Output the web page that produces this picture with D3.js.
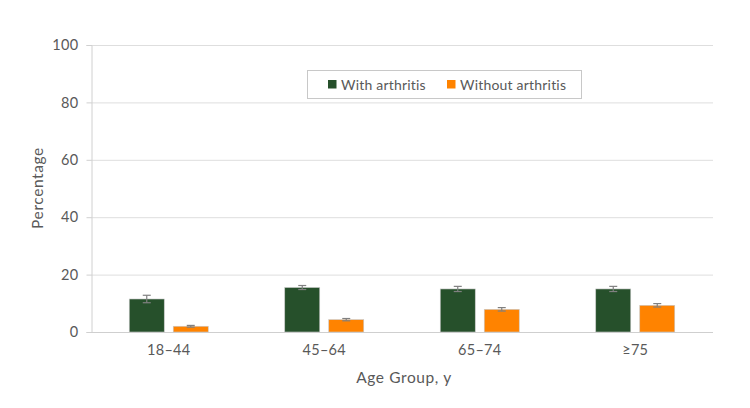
<!DOCTYPE html>
<html><head><meta charset="utf-8">
<script src="https://cdn.jsdelivr.net/npm/d3@7"></script>
<style>body{margin:0;background:#fff;} text{font-family:Lato,"Open Sans",sans-serif;fill:#595959;}</style>
</head><body>
<svg id="c" width="750" height="408"></svg>
<script>
const categories = ["18–44", "45–64", "65–74", "≥75"];
const seriesNames = ["With arthritis", "Without arthritis"];
const withArthritis = [11.5, 15.5, 15.0, 15.0];
const withoutArthritis = [2.0, 4.3, 7.9, 9.3];
const withErr = [1.3, 0.7, 0.9, 0.9];
const withoutErr = [0.3, 0.4, 0.6, 0.6];
const yTicks = [0, 20, 40, 60, 80, 100];
const colors = ["#26502B", "#FF8300"];

const svg = d3.select("#c");
const m = {l: 91, r: 37, t: 45, b: 76};
const W = 750, H = 408;
const x = d3.scaleBand().domain(categories).range([m.l, W - m.r]).paddingInner(0).paddingOuter(0);
const y = d3.scaleLinear().domain([0, 100]).range([H - m.b, m.t]);

// grid
svg.append("g").selectAll("line").data(yTicks.filter(d => d > 0)).join("line")
  .attr("x1", m.l).attr("x2", W - m.r).attr("y1", d => y(d) + 0.5).attr("y2", d => y(d) + 0.5)
  .attr("stroke", "#dedede").attr("stroke-width", 1);

// y axis
const ya = svg.append("g").attr("transform", `translate(${m.l + 0.5},0)`)
  .call(d3.axisLeft(y).tickValues(yTicks).tickSize(5).tickPadding(8));
ya.select(".domain").attr("stroke", "#d0d0d0");
ya.selectAll(".tick line").attr("stroke", "#d0d0d0");
ya.selectAll("text").style("font-size", "14.5px").style("letter-spacing", "0.3px").attr("fill", "#595959");

// x baseline
svg.append("line").attr("x1", m.l).attr("x2", W - m.r).attr("y1", y(0) + 0.5).attr("y2", y(0) + 0.5)
  .attr("stroke", "#cfcfcf");

// x labels
const xa = svg.append("g").attr("transform", `translate(0,${y(0)})`)
  .call(d3.axisBottom(x).tickSize(0).tickPadding(13));
xa.select(".domain").remove();
xa.selectAll("text").style("font-size", "14.5px").style("letter-spacing", "0.3px").attr("fill", "#595959");

const bw = 35, gap = 9;
const data = [withArthritis, withoutArthritis];
const errs = [withErr, withoutErr];
data.forEach((vals, s) => {
  const off = s === 0 ? -gap / 2 - bw : gap / 2;
  const g = svg.append("g");
  g.selectAll("rect").data(vals).join("rect")
    .attr("x", (d, i) => x.bandwidth() / 2 + x(categories[i]) + off)
    .attr("y", d => y(d))
    .attr("width", bw)
    .attr("height", d => y(0) - y(d))
    .attr("fill", colors[s])
    .attr("stroke", "#c8c8c8").attr("stroke-width", 0.6);
  const eg = svg.append("g").attr("stroke", "#808080").attr("stroke-width", 1.2);
  vals.forEach((d, i) => {
    const cx = x(categories[i]) + x.bandwidth() / 2 + off + bw / 2;
    const e = errs[s][i];
    eg.append("line").attr("x1", cx).attr("x2", cx).attr("y1", y(d + e)).attr("y2", y(d - e));
    eg.append("line").attr("x1", cx - 4).attr("x2", cx + 4).attr("y1", y(d + e)).attr("y2", y(d + e));
    eg.append("line").attr("x1", cx - 4).attr("x2", cx + 4).attr("y1", y(d - e)).attr("y2", y(d - e));
  });
});

// axis titles
svg.append("text").attr("x", 404).attr("y", 383).attr("text-anchor", "middle")
  .style("font-size", "15.5px").style("letter-spacing", "0.6px").text("Age Group, y");
svg.append("text").attr("transform", `translate(43,188) rotate(-90)`)
  .attr("text-anchor", "middle").style("font-size", "15.5px").style("letter-spacing", "0.6px").text("Percentage");

// legend
const lg = svg.append("g");
lg.append("rect").attr("x", 307.5).attr("y", 70.5).attr("width", 274).attr("height", 28)
  .attr("fill", "#fff").attr("stroke", "#c8c8c8");
const lx = [328, 447];
seriesNames.forEach((n, i) => {
  lg.append("rect").attr("x", lx[i]).attr("y", 80).attr("width", 8.5).attr("height", 8.5).attr("fill", colors[i]);
  lg.append("text").attr("x", lx[i] + 13).attr("y", 89.5).style("font-size", "14px").style("letter-spacing", "0.2px").text(n);
});
</script>
</body></html>
